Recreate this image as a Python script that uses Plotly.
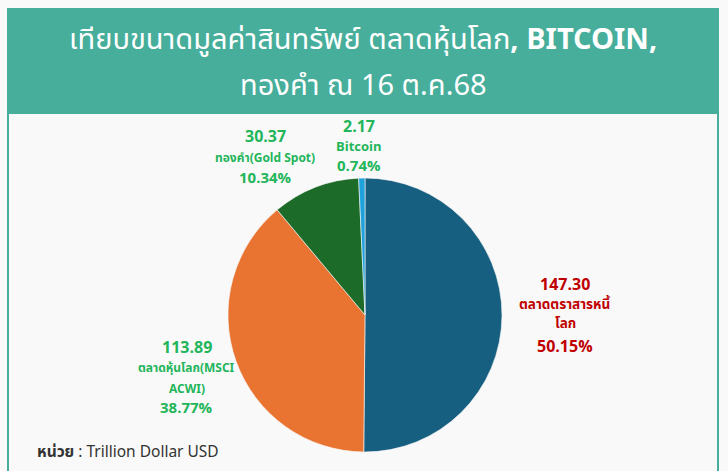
import plotly.graph_objects as go

# Data
categories = ["ตลาดตราสารหนี้<br>โลก", "ตลาดหุ้นโลก(MSCI<br>ACWI)", "ทองคำ(Gold Spot)", "Bitcoin"]
values = [147.30, 113.89, 30.37, 2.17]
colors = ["#175F80", "#E97432", "#1C6B28", "#1FA2DB"]
label_colors = ["#C00000", "#22B55A", "#22B55A", "#22B55A"]

W, H = 728, 471
total = sum(values)
pcts = [v / total * 100 for v in values]

fig = go.Figure()
cx, cy, r = 365, 315, 137
fig.add_trace(go.Pie(
    labels=categories, values=values, sort=False, direction="clockwise", rotation=0,
    marker=dict(colors=colors, line=dict(color="#f9f9f9", width=0.6)),
    textinfo="none", hoverinfo="label+value+percent", showlegend=False,
    domain=dict(x=[(cx - r) / W, (cx + r) / W], y=[(H - cy - r) / H, (H - cy + r) / H]),
))

FONT = "Tahoma, 'Noto Sans Thai', 'Noto Sans', sans-serif"
# label layout per slice: x center, y centers of lines, font sizes (value, name, pct)
label_x = [565, 187, 265, 359]
label_ys = [[285, 305, 324, 347], [348, 368, 389, 408], [137, 158, 178], [127, 147, 167]]
label_sizes = [(16, 13.5, 16), (16, 12, 15), (16, 12, 15), (16, 13, 15)]


def put(x, y, text, size, color, anchor="center", family=FONT):
    fig.add_annotation(x=x / W, y=1 - y / H, xref="paper", yref="paper", text=text,
                       showarrow=False, xanchor=anchor, yanchor="middle",
                       font=dict(family=family, color=color, size=size))


for i in range(len(values)):
    ys = label_ys[i]
    vs, ns, ps = label_sizes[i]
    c = label_colors[i]
    put(label_x[i], ys[0], f"<b>{values[i]:.2f}</b>", vs, c)
    for j, part in enumerate(categories[i].split("<br>")):
        put(label_x[i], ys[1 + j], f"<b>{part}</b>", ns, c)
    put(label_x[i], ys[-1], f"<b>{pcts[i]:.2f}%</b>", ps, c)

# Frame and header
teal = "#46AE9B"
fig.add_shape(type="rect", x0=8 / W, x1=718 / W, y0=-0.05, y1=1 - 9 / H, xref="paper", yref="paper",
              fillcolor="#f9f9f9", line=dict(color=teal, width=2), layer="below")
fig.add_shape(type="rect", x0=7 / W, x1=719 / W, y0=1 - 114 / H, y1=1 - 8 / H, xref="paper", yref="paper",
              fillcolor=teal, line=dict(width=0), layer="below")

put(363, 40, "เทียบขนาดมูลค่าสินทรัพย์ ตลาดหุ้นโลก<b>, BITCOIN,</b>", 29, "white")
put(363, 86, "ทองคำ ณ 16 ต.ค.68", 29, "white")
put(35, 452, "<b>หน่วย</b> : Trillion Dollar USD", 15.5, "#333333", anchor="left")

fig.update_layout(width=W, height=H, margin=dict(l=0, r=0, t=0, b=0),
                  paper_bgcolor="#f9f9f9", plot_bgcolor="#f9f9f9")
fig.write_html("out.html", config={"displayModeBar": False},
               post_script="document.body.style.margin='0';document.body.style.background='#f9f9f9';")
